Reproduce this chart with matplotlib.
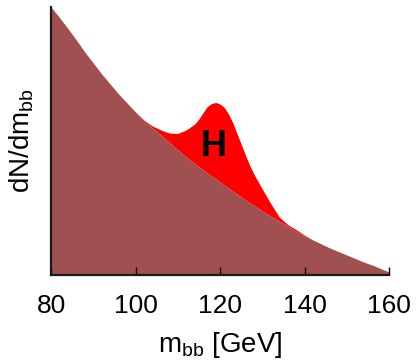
import numpy as np
import matplotlib
matplotlib.use("Agg")
import matplotlib.pyplot as plt

plt.rcParams['font.family'] = ['Liberation Sans', 'DejaVu Sans']
plt.rcParams['mathtext.fontset'] = 'custom'
plt.rcParams['mathtext.rm'] = 'Liberation Sans'
plt.rcParams['mathtext.it'] = 'Liberation Sans:italic'
plt.rcParams['mathtext.bf'] = 'Liberation Sans:bold'

# m_bb grid (GeV), finer around the peak
mass = [80, 82, 84, 86, 88, 90, 92, 94, 96, 98, 100, 102, 104, 106, 108, 110, 112,
        114, 115, 116, 117, 118, 119, 120, 121, 122, 123, 124, 125, 126, 127, 128,
        130, 132, 134, 136, 138, 140, 142, 144, 146, 148, 150, 152, 154, 156, 158, 160]

# background (arbitrary units)
background = [268, 257.5, 246.5, 235, 223, 212, 201, 191, 181, 172, 163, 154.5, 147, 140,
              132.5, 125, 118, 111.5, 108, 105, 102, 99, 96, 93, 90, 87, 84, 81, 78, 75,
              72, 69.5, 64, 59, 54, 49, 44, 39.5, 35, 31, 27, 23.5, 20, 16.5, 13, 10, 6.5, 3]

# background + Higgs signal
total = [268, 257.5, 246.5, 235, 223, 212, 201, 191, 181, 172, 163, 155, 149, 145,
         142, 141.5, 145, 151, 156, 162.5, 168.5, 171.5, 172.5, 171, 167.5, 161, 152.5,
         141.5, 131, 120, 110, 101, 86, 71.5, 58, 50.5, 45.5, 40, 35, 31, 27, 23.5, 20,
         16.5, 13, 10, 6.5, 3]

xticks = [80, 100, 120, 140, 160]

mass = np.array(mass, dtype=float)
background = np.array(background, dtype=float)
total = np.array(total, dtype=float)

fig = plt.figure(figsize=(4.17, 3.6), dpi=100)
ax = fig.add_axes([51 / 417, 85 / 360, 338 / 417, 268 / 360])

ax.fill_between(mass, background, total, color='#ff0000', linewidth=0)
ax.fill_between(mass, 0, background, color='#a05050', linewidth=0)

ax.text(118.6, 128, 'H', fontsize=26, fontweight='bold', ha='center', va='center')

ax.set_xlim(80, 160)
ax.set_ylim(0, 268)
ax.set_xticks(xticks)
ax.set_yticks([])
ax.tick_params(axis='x', direction='in', length=6, width=1, labelsize=19, pad=14)

for s in ['top', 'right']:
    ax.spines[s].set_visible(False)
for s in ['left', 'bottom']:
    ax.spines[s].set_linewidth(1.6)
    ax.spines[s].set_color('#1a1a1a')
    ax.spines[s].set_zorder(5)

ax.set_xlabel(r'm$_{\mathrm{bb}}$ [GeV]', fontsize=20, labelpad=8)
ax.set_ylabel(r'dN/dm$_{\mathrm{bb}}$', fontsize=20, labelpad=11)

fig.savefig('out.png', dpi=100)
